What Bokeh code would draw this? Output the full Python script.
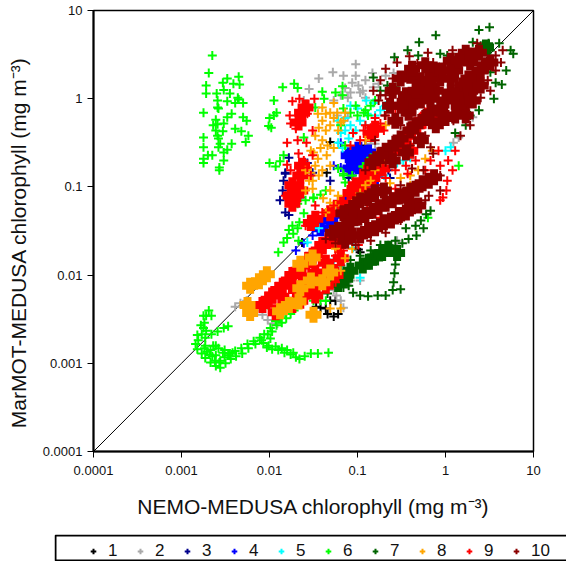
from bokeh.plotting import figure
from bokeh.layouts import column
from bokeh.models import FixedTicker, Legend, LegendItem, BoxAnnotation, Range1d
from bokeh.embed import file_html
from bokeh.resources import INLINE
import numpy as np

# All values are log10(chlorophyll, mg m-3).  "core" = densely overplotted areas.
x1 = [-0.97,-0.99,-1.42,-1.36,-1.47,-1.25,-1.31,-1.34,-1.27,-1.22,-1.31,-1.35,-0.91,-0.97,-1.63]
y1 = [-1.74,-1.71,-2.37,-2.38,-2.36,-2.29,-2.29,-2.44,-2.47,-2.44,-0.49,-0.84,-0.53,-0.56,-1.63]

x2 = [-1.02,-1.28,-1.44,-1.55,-1.06,-1.08,-1.14,-0.99,-1.61,-1.27,-1.23,-0.83,-0.82,-1.11,-0.91,-0.97,-1.11,-0.85,-0.80,0.31,0.09,0.15,-0.59,-0.34,-0.97,-1.08,-1.27,-1.31,-1.24,-0.65,-0.55,-1.16,-2.33,-2.39,-2.26,-2.02,-1.97,-1.91,-2.08,-1.19,
      -0.91,-0.76,-0.68,-1.16,-1.02,-0.94,-1.19]
y2 = [0.39,0.30,0.23,0.11,0.18,0.07,0.12,0.15,-0.02,-0.02,-0.19,0.29,0.13,0.01,0.01,0.07,-0.21,-0.51,-0.51,-0.21,-0.50,-0.44,0.29,0.07,-2.06,-2.06,-2.17,-2.12,-2.23,-1.66,-1.61,-2.37,-2.32,-2.36,-2.29,-2.51,-2.55,-2.55,-2.45,-2.29,
      0.21,0.17,0.26,0.26,0.26,0.09,0.04]

x3 = [-1.85,-1.82,-1.88,-1.82,-1.78,-1.63,-1.67,-1.65,-1.78,-1.82,-1.84,-1.73,-1.57,-1.51,-1.31,-0.70,-0.65,-0.82,-0.77,-0.77,-0.63,-1.06,-1.10]
y3 = [-1.04,-0.85,-1.15,-1.29,-1.32,-1.01,-0.89,-1.12,-0.67,-0.84,-0.93,-0.96,-0.73,-0.84,-0.93,-0.81,-0.81,-0.93,-0.87,-0.98,-0.90,-0.87,-0.90]

x4 = [-1.70,-1.61,-1.51,-1.42,-1.31,-1.22,-1.13,-1.05,-0.97,-0.88,-0.80,-0.70,-1.19,-1.27,-1.19]
y4 = [-1.72,-1.64,-1.55,-1.47,-1.38,-1.29,-1.21,-1.12,-1.04,-0.96,-0.88,-0.81,-0.50,-0.76,-0.78]
x4_core = [-0.99,-0.88,-1.08,-0.94,-0.83,-1.10,-0.80,-1.19,-1.08,-0.97,-0.85,-1.31,-1.42,-0.99,-1.04,-0.92]
y4_core = [-0.68,-0.61,-0.79,-0.81,-0.72,-0.64,-0.85,-1.27,-1.15,-1.04,-0.93,-1.38,-1.47,-0.58,-0.72,-0.72]

x5 = [-0.82,-0.89,-0.97,-1.08,-1.00,-1.14,-1.19,-1.22,-1.14,-1.22,-1.17,-0.74,-0.90,-0.48,-0.55,-0.40,-0.70,0.06,0.00,-1.31,-1.08,-1.05,-1.27,-1.16,-0.97,-1.57,-1.44,
      -1.08,-0.80,-0.68,-0.91,-1.02,-1.10,-1.19]
y5 = [-0.05,-0.17,-0.25,-0.30,-0.11,-0.36,-0.39,-0.25,-0.22,-0.50,-0.56,-0.13,-0.02,-0.70,-0.73,-0.67,-0.87,-0.55,-0.59,-1.86,-1.93,-1.69,-1.83,-1.95,-2.03,-1.63,-1.47,
      -0.08,-0.19,-0.08,-0.30,-0.36,-0.45,-0.30]

x6 = [-2.65,-2.69,-2.72,-2.72,-2.60,-2.53,-2.48,-2.35,-2.34,-2.41,-2.52,-2.45,-2.36,-2.35,-2.48,-2.39,-2.30,-2.59,-2.59,-2.58,-2.75,-2.43,-2.48,-2.52,-2.61,-2.64,-2.59,-2.61,-2.53,-2.59,-2.58,-2.39,-2.32,-2.30,-2.26,-2.24,-2.27,-2.75,-2.75,-2.56,-2.58,-2.43,-2.48,-2.52,-2.52,-2.65,-2.70,-2.75,-2.75,-2.57,-2.57,
      -1.95,-1.92,-1.95,-2.00,-2.01,-1.98,-2.00,-1.93,-1.88,-1.84,-1.85,-1.72,-1.68,-1.40,-1.38,-1.17,-1.25,
      -2.69,-2.72,-2.74,-2.75,-2.77,-2.81,-2.84,-2.82,-2.77,-2.73,-2.67,-2.61,-2.56,-2.50,-2.44,-2.38,-2.31,-2.24,-2.16,-2.09,-2.02,-1.97,-1.92,-1.86,-1.81,-1.76,-1.72,
      -2.73,-2.66,-2.59,-2.52,-2.47,-2.73,-2.67,-2.61,-2.61,-2.53,-2.47,-2.56,-2.65,-2.71,-2.64,-2.58,-2.51,-2.42,
      -2.07,-2.03,-1.97,-1.90,-1.83,-1.76,-1.70,-1.66,-1.60,-1.53,-1.45,-1.33,-1.99,-2.01,
      -1.17,-0.93,-1.16,-1.48,-1.19,-1.14,-0.93,-1.16,-1.22,-1.36,-1.50,-1.61,0.15,0.06,0.26,-0.91,-1.00,-1.08,-0.85,
      -1.68,-1.59,-1.50,-1.42,-1.61,-1.66,-1.73,-1.78,-1.67,-1.84,-1.90,-1.80,-1.68,-1.74,-1.50,-1.42,-1.36,-2.02,-2.14,-0.85,-0.94,-1.06,-1.16,-1.14,-0.20,
      -2.74,-2.68,-2.62,-2.57,-2.51,-2.45,-2.39,-2.32,-2.25,-2.18,-2.11,-2.06,-1.99,-1.93,-1.88,-1.82,-1.75,-2.78,-2.72,-2.75,-2.66,-2.82,-1.93,-1.86,-1.80,-1.73,
      -1.02,-0.80,-0.88]
y6 = [0.49,0.29,0.15,0.06,0.06,0.18,0.23,0.25,0.16,0.17,0.10,0.06,0.01,-0.01,-0.03,-0.05,-0.05,-0.02,-0.10,-0.11,-0.16,-0.17,-0.21,-0.28,-0.24,-0.30,-0.29,-0.36,-0.37,-0.42,-0.45,-0.34,-0.37,-0.21,-0.25,-0.42,-0.49,-0.44,-0.55,-0.51,-0.55,-0.51,-0.58,-0.61,-0.70,-0.64,-0.64,-0.68,-0.73,-0.78,-0.81,
      -0.02,-0.16,-0.19,-0.22,-0.31,-0.33,-0.73,-0.77,-0.71,-0.64,0.13,0.17,0.12,0.08,0.00,0.14,0.07,
      -2.40,-2.46,-2.54,-2.60,-2.67,-2.74,-2.78,-2.84,-2.89,-2.94,-2.99,-3.03,-3.05,-3.00,-2.95,-2.92,-2.89,-2.83,-2.78,-2.74,-2.67,-2.64,-2.57,-2.54,-2.49,-2.44,-2.40,
      -2.71,-2.67,-2.64,-2.60,-2.58,-2.80,-2.85,-2.80,-2.91,-2.88,-2.91,-2.97,-2.92,-2.87,-2.80,-2.83,-2.85,-2.88,
      -2.77,-2.82,-2.84,-2.85,-2.88,-2.90,-2.93,-2.95,-2.92,-2.89,-2.89,-2.88,-2.72,-2.80,
      0.04,-0.16,-0.11,-0.10,-0.30,-0.53,-0.77,-0.85,-0.79,-1.04,-1.13,-0.44,-0.76,0.23,0.01,-0.13,-0.19,-0.16,-0.08,
      -1.19,-1.15,-1.12,-1.09,-1.30,-1.40,-1.53,-1.49,-1.61,-1.63,-1.74,-1.58,-1.47,-1.44,-2.29,-2.29,-2.29,-2.34,-2.37,-0.67,-0.77,-0.87,-0.87,-0.95,-1.35,
      -2.83,-2.90,-2.97,-2.99,-2.93,-2.89,-2.86,-2.83,-2.78,-2.75,-2.71,-2.67,-2.60,-2.52,-2.48,-2.43,-2.38,-2.57,-2.63,-2.46,-2.46,-2.68,-2.81,-2.83,-2.85,-2.88,
      -0.08,-0.02,-0.19]

x7 = [0.50,0.38,-0.11,-0.30,-0.43,-0.58,0.61,0.74,0.77,0.31,0.40,0.44,0.51,0.38,0.49,0.69,0.64,0.55,-0.31,-0.06,0.02,0.09,-0.82,-0.66,-0.57,-0.48,0.51,0.57,0.38,0.23,0.11,0.28,0.17,0.26,-0.74,
      -1.10,-1.05,-0.97,-0.88,-0.77,-0.68,-0.60,-0.51,-0.59,-0.58,-0.57,-1.34,-1.45,-1.23,-1.16,-1.31,
      -1.16,-1.06,-0.94,-0.83,-0.70,-0.55,-0.60,-0.49,-0.42,-0.33,-0.34,-0.25,-0.17,-0.22,-0.28,-0.45,-0.57,-0.74,-0.85,-0.97,-1.08,-1.19,-1.25]
y7 = [0.81,0.78,0.72,0.64,0.55,0.47,0.63,0.55,0.51,0.64,0.60,0.57,0.55,0.52,0.63,0.32,0.16,0.00,0.49,0.51,0.49,0.47,0.24,0.15,0.13,0.07,0.30,0.18,-0.13,-0.30,-0.39,-0.19,0.43,0.46,0.09,
      -2.12,-2.20,-2.23,-2.24,-2.23,-2.23,-2.17,-2.16,-2.08,-1.98,-1.88,-2.21,-2.23,-2.10,-2.14,-2.08,
      -1.98,-1.93,-1.87,-1.81,-1.76,-1.74,-1.70,-1.64,-1.59,-1.55,-1.44,-1.47,-1.27,-1.31,-1.38,-1.47,-1.61,-1.66,-1.72,-1.78,-1.83,-1.89,-1.97]
x7_core = [-1.08,-0.94,-0.80,-0.65,-1.14,-0.55,0.46,-1.22,-0.87,-0.72]
y7_core = [-1.95,-1.89,-1.80,-1.70,-2.04,-1.75,0.58,-2.10,-1.85,-1.75]

x8 = [-1.45,-1.36,-1.27,-1.19,-1.40,-1.31,-1.22,-1.44,-1.14,-1.27,-1.50,-1.42,-1.34,-1.45,-1.35,-1.27,-1.48,-1.40,-1.53,-1.55,-1.59,-1.51,-1.31,-1.39,-1.31,-1.22,-1.08,-0.97,-0.85,-0.74,-0.51,-0.40,-0.63,-0.31,-0.23,-0.15,-0.91,-0.68,-0.57,-1.25,-1.14,-1.06,-1.19,-1.31,-1.31,-1.19,-0.68,-0.80,-0.91,-1.02,-1.14,-0.40,
      -1.40,-1.31,-1.23,-1.16,-1.36,-1.48,-1.40,-1.53,-1.59,-1.51,-1.44,-1.31,-1.25,-1.36]
y8 = [-0.17,-0.17,-0.22,-0.27,-0.25,-0.30,-0.36,-0.33,-0.16,-0.05,-0.61,-0.56,-0.53,-0.68,-0.64,-0.56,-0.76,-0.81,-0.84,-0.93,-1.04,-1.02,-0.76,-1.13,-1.18,-1.10,-1.30,-1.07,-0.93,-0.72,-0.90,-0.87,-0.96,-0.81,-0.68,-0.59,-0.47,-0.30,-0.22,-1.70,-1.81,-1.70,-1.95,-2.00,-2.38,-2.38,-0.70,-0.81,-0.98,-1.15,-1.29,-0.98,
      -0.10,-0.16,-0.16,-0.25,-0.36,-0.42,-0.47,-0.59,-0.81,-0.93,-0.87,-1.04,-1.21,-1.29]
x8_core = [-2.22,-2.12,-2.03,-2.25,-2.22,-1.88,-1.78,-1.67,-1.50,-1.65,-1.53,-1.65,-1.51,-1.40,-1.31]
y8_core = [-2.12,-2.07,-1.99,-2.34,-2.43,-2.41,-2.34,-2.30,-2.45,-2.15,-2.06,-1.87,-1.80,-2.08,-1.97]

x9 = [0.11,0.03,0.08,0.02,0.01,-0.03,-0.06,-0.28,-0.38,-0.51,-1.74,-1.66,-1.49,-1.57,-1.77,-1.76,-1.80,-1.68,-1.58,-1.67,-1.61,-1.80,-1.67,-1.57,-0.85,-0.74,-1.05,-0.93,-0.82,-0.70,-1.08,-0.97,-1.16,-1.25,-0.99,-1.25,-0.43,-0.57,-0.48,-0.89,-0.74,
      -0.17,-0.23,-0.08,-0.06,-0.34,-0.45,-0.57,-0.68,-0.80,-0.91,-0.80,-0.68,-0.57,-1.27,-1.40,-1.48,-1.59,-1.70,-1.51,-1.76,-1.53,-1.51,-1.82]
y9 = [-0.59,-0.70,-0.81,-0.93,-1.04,-1.12,-1.15,-1.23,-1.27,-1.35,-0.03,0.00,0.00,-0.17,-0.19,-0.28,-0.50,-0.47,-0.50,-0.62,-0.70,-0.75,-0.78,-0.78,-0.33,-0.28,-0.39,-0.36,-0.39,-0.36,-0.53,-0.47,-1.72,-2.08,-1.66,-1.78,-0.85,-1.02,-1.07,-1.26,-1.35,
      -0.70,-0.81,-0.59,-0.76,-0.70,-0.76,-0.81,-0.90,-0.98,-0.30,-0.22,-0.19,-0.11,-1.21,-1.29,-1.21,-1.44,-0.34,-0.36,-0.81,-0.87,-0.64,-1.10]
x9_core = [-0.60,-0.49,-0.38,-0.26,-0.74,-0.15,-0.83,-0.72,-0.94,-2.08,-1.97,-1.85,-1.74,-1.63,-1.51,-1.40,-1.28,-1.82,-1.70,-1.59,-1.48,-1.36,-1.93,-1.65,-1.48,-1.36,-1.25,-1.53,-1.48,-1.73,-1.74,-1.31,-1.19,-1.08,-0.94,-1.63,-1.67,-1.59,-1.65,-1.74,-1.76,-1.65,-1.63,-0.40,-0.85,
           -0.80,-0.55,-0.43,-0.32,-0.20,-0.68,-0.80,-0.89,-1.02,-2.01,-1.90,-1.78,-1.67,-1.56,-1.44,-1.33,-1.74,-1.63,-1.51,-1.42,-1.31,-1.19,-1.22]
y9_core = [-0.59,-0.47,-0.36,-0.25,-0.68,-0.19,-0.90,-0.79,-1.04,-2.34,-2.23,-2.12,-2.00,-1.89,-1.78,-1.66,-1.59,-2.29,-2.17,-2.06,-1.97,-1.86,-2.42,-2.29,-2.23,-2.12,-2.00,-1.41,-1.36,-1.13,-1.19,-1.30,-1.19,-1.07,-0.95,-0.16,-0.27,-0.10,-0.87,-0.98,-1.10,-1.04,-0.76,-0.59,-0.40,
           -0.34,-0.53,-0.42,-0.30,-0.19,-0.64,-0.76,-0.84,-0.98,-2.28,-2.17,-2.06,-1.95,-1.83,-1.72,-1.61,-2.34,-2.23,-2.15,-2.04,-1.92,-1.81,-1.66]

x10 = [-0.20,-0.41,-0.55,-0.68,-0.74,-0.82,-0.60,-0.45,-0.32,-0.14,0.08,0.20,0.36,0.65,0.57,0.48,0.40,0.23,0.09,-0.74,-0.76,-0.74,-0.57,-0.40,-0.23,-0.17,-0.14,-0.25,-0.17,-0.38,-0.51,-0.68,
       -0.68,-0.60,-0.69,-0.51,-0.80,-0.91,-0.06,-0.19,-0.06,-0.34,-0.23,-0.51,-0.68,-0.85,-1.02,-1.25,-1.36,0.57,0.63,0.51,0.28,0.17]
y10 = [0.52,0.48,0.41,0.34,0.21,0.09,0.23,0.26,0.40,0.41,0.55,0.55,0.63,0.55,0.32,0.21,0.01,-0.13,-0.25,0.04,-0.02,-0.73,-0.64,-0.53,-0.42,-0.55,-0.62,-0.81,-0.93,-0.79,-0.98,-0.72,
       0.04,-0.08,-0.19,-0.30,-0.47,-0.81,-1.04,-1.10,-0.87,-1.21,-1.15,-1.38,-1.52,-1.61,-1.66,-1.64,-1.59,0.49,0.41,0.09,-0.30,-0.42]
x10_core = [-0.63,-0.45,-0.28,-0.11,0.06,0.23,0.38,0.45,0.34,0.19,0.06,-0.11,-0.28,-0.42,-0.57,0.00,-0.17,-0.34,-0.51,-0.68,-0.83,0.15,0.28,0.00,-0.60,-0.40,-0.23,-0.06,0.11,0.28,-0.40,-0.17,0.06,0.23,0.11,-0.11,-0.28,-0.45,-0.60,
            -1.28,-1.14,-0.99,-0.83,-0.68,-0.53,-0.40,-0.26,-0.13,-1.14,-0.97,-0.80,-0.62,-0.45,-0.31,-1.16,-0.97,-0.80,
            -0.51,-0.34,-0.19,-0.03,0.15,0.31,0.40,0.26,0.11,-0.06,-0.23,-0.40,-0.57,-0.74,0.23,0.31,0.40,0.51,-0.51,-0.38,-0.23,
            -1.22,-1.08,-0.91,-0.76,-0.60,-0.45,-0.34,-0.19,-1.06,-0.88,-0.70,-0.53,-0.38,-1.06,-0.88,-0.70]
y10_core = [-0.08,0.04,0.21,0.32,0.43,0.52,0.52,0.38,0.26,0.15,0.23,0.09,-0.02,-0.16,-0.25,-0.02,-0.16,-0.30,-0.45,-0.59,-0.72,-0.08,0.09,-0.22,0.09,0.26,0.09,0.23,0.32,0.41,-0.08,0.00,0.07,-0.02,-0.19,-0.30,-0.47,-0.61,-0.70,
            -1.52,-1.44,-1.35,-1.27,-1.19,-1.11,-1.04,-0.96,-0.89,-1.61,-1.55,-1.47,-1.38,-1.29,-1.21,-1.30,-1.15,-1.06,
            -0.08,0.09,0.21,0.32,0.43,0.49,0.32,0.23,0.04,-0.11,-0.22,-0.36,-0.51,-0.64,-0.19,-0.02,0.15,0.41,0.23,0.34,0.38,
            -1.49,-1.40,-1.32,-1.23,-1.15,-1.10,-1.02,-0.93,-1.55,-1.49,-1.40,-1.32,-1.22,-1.24,-1.13,-1.04]

series = ["1","2","3","4","5","6","7","8","9","10"]
colors = ["#000000","#A9A9A9","#00008B","#0000FF","#00FFFF","#00FF00","#006400","#FFA500","#FF0000","#8B0000"]
tick_values = [0.0001,0.001,0.01,0.1,1,10]
tick_labels = ["0.0001","0.001","0.01","0.1","1","10"]
FONT = "Liberation Sans"

p = figure(width=566, height=534, x_axis_type="log", y_axis_type="log",
           x_range=(1e-4,10), y_range=(1e-4,10), output_backend="svg", toolbar_location=None,
           min_border_left=93, min_border_right=33, min_border_top=10, min_border_bottom=83,
           x_axis_label="NEMO-MEDUSA chlorophyll (mg m⁻³)",
           y_axis_label="MarMOT-MEDUSA chlorophyll (mg m⁻³)\u00a0\u00a0\u00a0\u00a0")
p.frame_align = False
p.grid.visible = False
p.outline_line_color = "black"
p.outline_line_width = 1.5
for ax in (p.xaxis[0], p.yaxis[0]):
    ax.ticker = FixedTicker(ticks=tick_values)
    ax.major_label_overrides = dict(zip(tick_values, tick_labels))
    ax.minor_tick_line_color = None
    ax.major_tick_in = 0
    ax.major_tick_out = 6
    ax.axis_line_color = "black"
    ax.axis_line_width = 2
    ax.major_tick_line_color = "black"
    ax.major_label_text_font = FONT
    ax.major_label_text_font_size = "13px"
    ax.major_label_text_color = "#111111"
    ax.axis_label_text_font = FONT
    ax.axis_label_text_font_size = "21px"
    ax.axis_label_text_font_style = "normal"
    ax.axis_label_text_color = "#111111"
p.xaxis[0].major_label_standoff = 8
p.yaxis[0].major_label_standoff = 5
p.xaxis[0].axis_label_standoff = 17
p.yaxis[0].axis_label_standoff = 10

p.line(tick_values, tick_values, line_color="black", line_width=1)

def draw(x, y, c, core=False):
    p.scatter(np.power(10.0, x), np.power(10.0, y), marker="cross", fill_color=None, line_color=c,
              size=16 if core else 9, line_width=8 if core else 2)

data = [(x1,y1,None,None),(x2,y2,None,None),(x3,y3,None,None),(x4,y4,x4_core,y4_core),(x5,y5,None,None),
        (x6,y6,None,None),(x7,y7,x7_core,y7_core)]
for i,(x,y,xc,yc) in enumerate(data):
    if xc: draw(xc,yc,colors[i],True)
    draw(x,y,colors[i])
draw(x9_core,y9_core,colors[8],True)
draw(x8_core,y8_core,colors[7],True)
draw(x8,y8,colors[7])
draw(x9,y9,colors[8])
draw(x10_core,y10_core,colors[9],True)
draw(x10,y10,colors[9])

# legend strip under the plot
q = figure(width=566, height=27, x_range=Range1d(54,566), y_range=Range1d(27,0), x_axis_type=None, y_axis_type=None,
           output_backend="svg", toolbar_location=None, min_border_left=54, min_border_right=0, min_border_top=0, min_border_bottom=0)
q.frame_align = False
q.grid.visible = False
q.outline_line_color = None
q.add_layout(BoxAnnotation(left=55, right=600, top=1, bottom=26, fill_color=None, line_color="black",
                           line_alpha=1.0, line_width=2))
items = []
for s,c in zip(series,colors):
    r = q.scatter([0], [0], marker="cross", line_color=c, size=6, line_width=2)
    items.append(LegendItem(label=s, renderers=[r]))
legend = Legend(items=items, orientation="horizontal", location=(32,0), border_line_color=None,
                background_fill_color=None, glyph_width=14, glyph_height=14, label_standoff=8,
                spacing=5, padding=4, margin=0,
                label_text_font=FONT, label_text_font_size="17px", label_text_color="#111111")
q.add_layout(legend)

open("out.html","w").write(file_html(column(p, q, spacing=0), INLINE))
